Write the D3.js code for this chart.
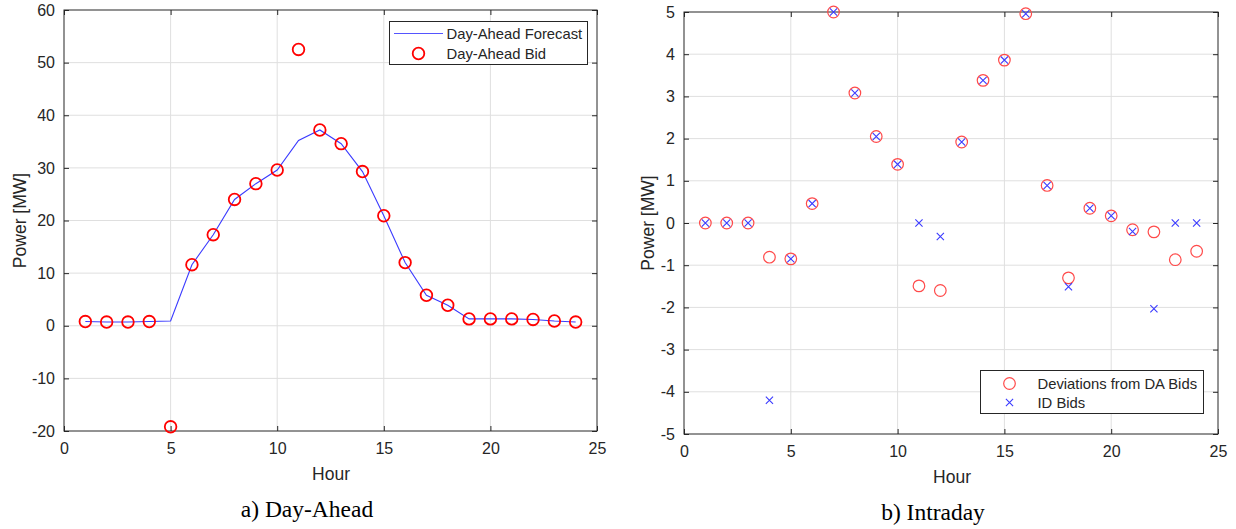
<!DOCTYPE html>
<html>
<head>
<meta charset="utf-8">
<script src="https://cdn.jsdelivr.net/npm/d3@7"></script>
<style>
  body { margin: 0; background: #fff; }
  svg { display: block; }
  text { font-family: "Liberation Sans", Arial, sans-serif; fill: #262626; }
  .caption { font-family: "Liberation Serif", "Times New Roman", serif; fill: #000; }
</style>
</head>
<body>
<svg width="1236" height="529"></svg>
<script>
const svg = d3.select('svg');

// hours 1..24
const hours = d3.range(1, 25);

// a) Day-Ahead
const daForecast = [0.8, 0.7, 0.7, 0.8, 0.9, 11.6, 17.3, 24.0, 27.0, 29.6, 35.2, 37.2,
                    34.6, 29.3, 20.9, 12.0, 5.8, 3.9, 1.3, 1.3, 1.3, 1.2, 0.9, 0.7];
const daBid = [0.8, 0.7, 0.7, 0.8, -19.2, 11.6, 17.3, 24.0, 27.0, 29.6, 52.5, 37.2,
               34.6, 29.3, 20.9, 12.0, 5.8, 3.9, 1.3, 1.3, 1.3, 1.2, 0.9, 0.7];

// b) Intraday
const deviations = [0, 0, 0, -0.81, -0.85, 0.46, 5.0, 3.08, 2.05, 1.39, -1.49, -1.6,
                    1.92, 3.38, 3.86, 4.96, 0.89, -1.3, 0.35, 0.17, -0.16, -0.21, -0.87, -0.67];
const idBids = [0, 0, 0, -4.2, -0.85, 0.46, 5.0, 3.08, 2.05, 1.39, 0, -0.32,
                1.92, 3.38, 3.86, 4.96, 0.89, -1.51, 0.35, 0.17, -0.2, -2.03, 0, 0];

const xTicks = [0, 5, 10, 15, 20, 25];
const yTicksA = [-20, -10, 0, 10, 20, 30, 40, 50, 60];
const yTicksB = [-5, -4, -3, -2, -1, 0, 1, 2, 3, 4, 5];

// plain hyphen for negatives, like the original
const fmt = d => String(d);

// draws the box, grid, ticks and labels for one panel, returns scales
function drawFrame(p) {
  const x = d3.scaleLinear().domain([0, 25]).range([p.left, p.right]);
  const y = d3.scaleLinear().domain(p.yDomain).range([p.bottom, p.top]);
  const g = svg.append('g');

  // grid
  g.selectAll('.gx').data(xTicks.slice(1, -1)).enter().append('line')
    .attr('x1', d => x(d)).attr('x2', d => x(d))
    .attr('y1', p.top).attr('y2', p.bottom)
    .attr('stroke', '#dfdfdf').attr('stroke-width', 1);
  g.selectAll('.gy').data(p.yTicks.slice(1, -1)).enter().append('line')
    .attr('y1', d => y(d)).attr('y2', d => y(d))
    .attr('x1', p.left).attr('x2', p.right)
    .attr('stroke', '#dfdfdf').attr('stroke-width', 1);

  // axes with inward ticks (MATLAB style), both sides
  const tl = 5;
  g.append('g').attr('transform', `translate(0,${p.bottom})`)
    .call(d3.axisBottom(x).tickValues(xTicks).tickSize(-tl).tickPadding(12).tickFormat(fmt))
    .call(a => a.select('.domain').remove());
  g.append('g').attr('transform', `translate(0,${p.top})`)
    .call(d3.axisTop(x).tickValues(xTicks).tickSize(-tl).tickFormat(''))
    .call(a => a.select('.domain').remove());
  g.append('g').attr('transform', `translate(${p.left},0)`)
    .call(d3.axisLeft(y).tickValues(p.yTicks).tickSize(-tl).tickPadding(9).tickFormat(fmt))
    .call(a => a.select('.domain').remove());
  g.append('g').attr('transform', `translate(${p.right},0)`)
    .call(d3.axisRight(y).tickValues(p.yTicks).tickSize(-tl).tickFormat(''))
    .call(a => a.select('.domain').remove());
  g.selectAll('.tick line').attr('stroke', '#262626');
  g.selectAll('.tick text').attr('font-size', 16).attr('fill', '#262626')
    .style('font-family', '"Liberation Sans", Arial, sans-serif');

  g.append('rect')
    .attr('x', p.left).attr('y', p.top)
    .attr('width', p.right - p.left).attr('height', p.bottom - p.top)
    .attr('fill', 'none').attr('stroke', '#262626').attr('stroke-width', 1);

  g.append('text').attr('x', p.hourX).attr('y', p.hourY)
    .attr('text-anchor', 'middle').attr('font-size', 17.5).text('Hour');
  g.append('text')
    .attr('transform', `translate(${p.powerX},${(p.top + p.bottom) / 2}) rotate(-90)`)
    .attr('text-anchor', 'middle').attr('font-size', 17.5).text('Power [MW]');
  svg.append('text').attr('class', 'caption')
    .attr('x', p.capX).attr('y', p.capY)
    .attr('text-anchor', 'middle').attr('font-size', 23.5).text(p.caption);
  return { x, y };
}

// panel a
const pa = drawFrame({
  left: 64, right: 597, top: 10, bottom: 431,
  yDomain: [-20, 60], yTicks: yTicksA,
  hourX: 331, hourY: 480, powerX: 26, capX: 307, capY: 517, caption: 'a) Day-Ahead'
});

svg.append('path')
  .datum(hours.map((h, i) => [h, daForecast[i]]))
  .attr('fill', 'none').attr('stroke', '#3b3bff').attr('stroke-width', 1.1)
  .attr('d', d3.line().x(d => pa.x(d[0])).y(d => pa.y(d[1])));

svg.selectAll('.bid').data(hours).enter().append('circle')
  .attr('cx', h => pa.x(h)).attr('cy', (h, i) => pa.y(daBid[i]))
  .attr('r', 5.8).attr('fill', 'none').attr('stroke', '#ff0000').attr('stroke-width', 1.8);

// legend a
const la = svg.append('g');
la.append('rect').attr('x', 389.5).attr('y', 21.5).attr('width', 198).attr('height', 43)
  .attr('fill', '#fff').attr('stroke', '#262626').attr('stroke-width', 1);
la.append('path').attr('d', 'M394,33.5H443')
  .attr('stroke', '#5555ff').attr('stroke-width', 1.2).attr('fill', 'none');
la.append('circle').attr('cx', 418.5).attr('cy', 53.5).attr('r', 5.8)
  .attr('fill', 'none').attr('stroke', '#ff0000').attr('stroke-width', 1.8);
la.append('text').attr('x', 446.5).attr('y', 38.5).attr('font-size', 14.8).attr('fill', '#000')
  .text('Day-Ahead Forecast');
la.append('text').attr('x', 446.5).attr('y', 58.5).attr('font-size', 14.8).attr('fill', '#000')
  .text('Day-Ahead Bid');

// panel b
const pb = drawFrame({
  left: 684, right: 1218, top: 12, bottom: 434,
  yDomain: [-5, 5], yTicks: yTicksB,
  hourX: 952, hourY: 483, powerX: 654, capX: 933, capY: 520, caption: 'b) Intraday'
});

svg.selectAll('.dev').data(hours).enter().append('circle')
  .attr('cx', h => pb.x(h)).attr('cy', (h, i) => pb.y(deviations[i]))
  .attr('r', 5.8).attr('fill', 'none').attr('stroke', '#ff4a4a').attr('stroke-width', 1.2);

function cross(sel, cx, cy) {
  const s = 3.6;
  sel.append('path')
    .attr('d', `M${cx - s},${cy - s}L${cx + s},${cy + s}M${cx - s},${cy + s}L${cx + s},${cy - s}`)
    .attr('stroke', '#3a3aff').attr('stroke-width', 1.1).attr('fill', 'none');
}
const cg = svg.append('g');
hours.forEach((h, i) => cross(cg, pb.x(h), pb.y(idBids[i])));

// legend b
const lb = svg.append('g');
lb.append('rect').attr('x', 980.5).attr('y', 370.5).attr('width', 223).attr('height', 43)
  .attr('fill', '#fff').attr('stroke', '#262626').attr('stroke-width', 1);
lb.append('circle').attr('cx', 1009.5).attr('cy', 383.5).attr('r', 5.8)
  .attr('fill', 'none').attr('stroke', '#ff4a4a').attr('stroke-width', 1.2);
cross(lb, 1009.5, 402.5);
lb.append('text').attr('x', 1037.5).attr('y', 388.5).attr('font-size', 14.8).attr('fill', '#000')
  .text('Deviations from DA Bids');
lb.append('text').attr('x', 1037.5).attr('y', 407.5).attr('font-size', 14.8).attr('fill', '#000')
  .text('ID Bids');
</script>
</body>
</html>
